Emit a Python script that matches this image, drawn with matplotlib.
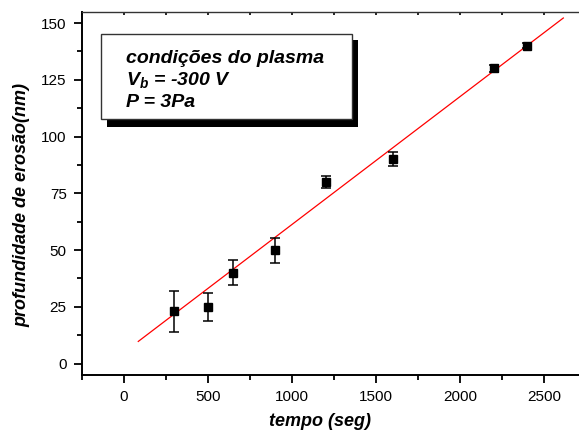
import numpy as np
import matplotlib.pyplot as plt
from matplotlib.patches import Rectangle
from matplotlib.ticker import MultipleLocator

plt.rcParams['font.family'] = ['Liberation Sans', 'DejaVu Sans']
plt.rcParams['mathtext.fontset'] = 'custom'
plt.rcParams['mathtext.it'] = 'Liberation Sans:italic:bold'
plt.rcParams['mathtext.rm'] = 'Liberation Sans:bold'

# measured data
tempo = [300, 500, 650, 900, 1200, 1600, 2200, 2400]
profundidade = [23, 25, 40, 50, 80, 90, 130, 140]
erro = [9, 6, 5.5, 5.5, 2.5, 3, 1.5, 1]

# linear fit
fit_inicio, fit_fim = 85, 2615
fit_a = 5.0      # intercept
fit_b = 0.0563   # slope

fig = plt.figure(figsize=(5.79, 4.30), dpi=100)
W, H = 579, 430
ax = fig.add_axes([82 / W, 1 - 375 / H, 504 / W, (375 - 11.7) / H])

tf = np.array([fit_inicio, fit_fim])
ax.plot(tf, fit_a + fit_b * tf, color='red', lw=0.9, zorder=2)

ax.errorbar(tempo, profundidade, yerr=erro, fmt='s', color='black',
            ms=6, ecolor='black', elinewidth=1.1, capsize=3.3, capthick=1.1,
            zorder=3)

ax.set_xlim(-250, 2750)
ax.set_ylim(-5, 155)
ax.xaxis.set_major_locator(MultipleLocator(500))
ax.xaxis.set_minor_locator(MultipleLocator(250))
ax.yaxis.set_major_locator(MultipleLocator(25))
ax.yaxis.set_minor_locator(MultipleLocator(12.5))

ax.tick_params(which='major', direction='out', length=6, width=1.3,
               labelsize=11, pad=5)
ax.tick_params(which='minor', direction='out', length=3.8, width=1.3)
ax.spines['left'].set_linewidth(1.4)
ax.spines['bottom'].set_linewidth(1.4)
ax.spines['top'].set_linewidth(1.0)
ax.spines['top'].set_color('#333333')
ax.spines['right'].set_visible(False)

# small marks on the top edge
ax2 = ax.secondary_xaxis('top')
ax2.xaxis.set_major_locator(MultipleLocator(250))
ax2.tick_params(direction='in', length=2, width=1.2, labeltop=False)
ax2.spines['top'].set_visible(False)

ax.set_xlabel('tempo (seg)', fontsize=13, fontweight='bold', style='italic')
ax.set_ylabel('profundidade de erosão(nm)', fontsize=13, fontweight='bold',
              style='italic')
ax.xaxis.set_label_coords((320 - 82) / 504, -0.105)
ax.yaxis.set_label_coords(-0.102, (375 - 205) / (375 - 11.7))

# text box with shadow
def fx(x):
    return x / W

def fy(y):
    return 1 - y / H

fig.patches.append(Rectangle((fx(107), fy(127)), fx(358) - fx(107),
                             fy(40) - fy(127), transform=fig.transFigure,
                             facecolor='black', edgecolor='none', zorder=4))
fig.patches.append(Rectangle((fx(101), fy(119)), fx(352) - fx(101),
                             fy(34) - fy(119), transform=fig.transFigure,
                             facecolor='white', edgecolor='#333333', lw=1.0,
                             zorder=5))

linhas = ['condições do plasma', '$V_b$ = -300 V', 'P = 3Pa']
for i, s in enumerate(linhas):
    fig.text(fx(126), fy(63 + i * 22), s, fontsize=14, fontweight='bold',
             style='italic', ha='left', va='baseline', zorder=6)

fig.savefig('out.png', dpi=100)
